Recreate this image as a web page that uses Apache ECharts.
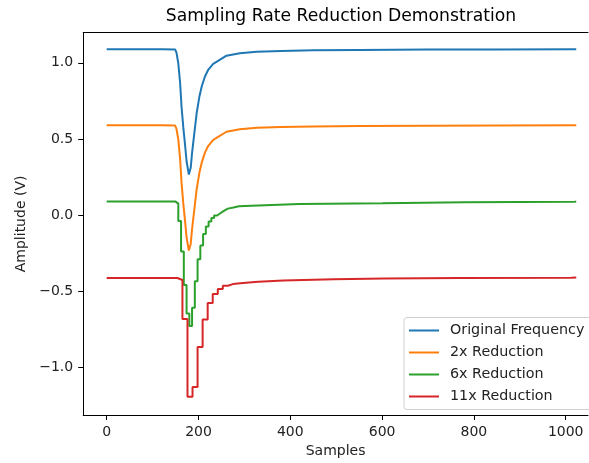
<!DOCTYPE html>
<html>
<head>
<meta charset="utf-8">
<script src="https://cdn.jsdelivr.net/npm/echarts@6/dist/echarts.min.js"></script>
<style>
  html, body { margin: 0; padding: 0; background: #fff; }
  #chart { width: 589px; height: 463px; }
</style>
</head>
<body>
<div id="chart"></div>
<script>
// original signal at key samples
let origX = [0, 60, 120, 149, 152, 156, 160, 163, 167, 171, 174, 179, 183, 186, 191, 196, 202, 207, 214, 221, 232, 240, 261, 290, 327, 380, 450, 550, 700, 850, 1023];
let origY = [1.090, 1.090, 1.089, 1.088, 1.067, 0.997, 0.866, 0.713, 0.572, 0.452, 0.353, 0.266, 0.310, 0.408, 0.539, 0.670, 0.779, 0.844, 0.910, 0.953, 0.993, 1.008, 1.047, 1.063, 1.073, 1.078, 1.082, 1.085, 1.087, 1.088, 1.089];

// 2x reduction (offset -0.5)
let halfX = [0, 60, 120, 149, 152, 156, 160, 163, 167, 171, 174, 179, 183, 186, 191, 196, 202, 207, 214, 221, 232, 240, 261, 290, 327, 380, 450, 550, 700, 850, 1023];
let halfY = [0.590, 0.590, 0.589, 0.588, 0.567, 0.497, 0.366, 0.213, 0.072, -0.048, -0.147, -0.234, -0.190, -0.092, 0.039, 0.170, 0.279, 0.344, 0.410, 0.453, 0.493, 0.508, 0.547, 0.563, 0.573, 0.578, 0.582, 0.585, 0.587, 0.588, 0.589];

// 6x reduction (offset -1.0), held values
let sixX = [0, 144, 150, 156, 162, 168, 174, 180, 186, 192, 198, 204, 210, 216, 222, 228, 234, 240, 246, 252, 258, 264, 276, 288, 330, 420, 600, 780, 1020, 1023];
let sixY = [0.089, 0.088, 0.075, -0.040, -0.240, -0.460, -0.647, -0.730, -0.610, -0.435, -0.290, -0.200, -0.125, -0.075, -0.043, -0.020, -0.004, 0.008, 0.020, 0.032, 0.042, 0.049, 0.058, 0.063, 0.073, 0.078, 0.084, 0.087, 0.088, 0.088];

// 11x reduction (offset -1.5), held values
let elevenX = [0, 143, 154, 165, 176, 187, 198, 209, 220, 231, 242, 253, 264, 275, 297, 330, 385, 495, 605, 770, 1012, 1023];
let elevenY = [-0.414, -0.414, -0.427, -0.683, -1.195, -1.130, -0.868, -0.687, -0.578, -0.519, -0.486, -0.465, -0.454, -0.447, -0.438, -0.430, -0.423, -0.418, -0.414, -0.413, -0.411, -0.411];

let seriesNames = ['Original Frequency', '2x Reduction', '6x Reduction', '11x Reduction'];
let colors = ['#1f77b4', '#ff7f0e', '#2ca02c', '#d62728'];
let xTicks = [0, 200, 400, 600, 800, 1000];
let yTicks = [-1.0, -0.5, 0.0, 0.5, 1.0];

let zip = (xs, ys) => xs.map((x, i) => [x, ys[i]]);
let minus = (s) => String(s).replace('-', '\u2212');
let font = 'DejaVu Sans';
let fs = 14;

let chart = echarts.init(document.getElementById('chart'), null, {renderer: 'canvas'});

let lineSeries = (name, data, color, step) => ({
    name: name,
    type: 'line',
    data: data,
    step: step,
    showSymbol: false,
    symbol: 'none',
    animation: false,
    lineStyle: {color: color, width: 2},
    itemStyle: {color: color}
});

// axes range: right spine of the original plot lies outside the picture
let xMin = -51.2, xMax = 1048.6;

let option = {
    backgroundColor: '#fff',
    textStyle: {fontFamily: font},
    title: {
        text: 'Sampling Rate Reduction Demonstration',
        left: 341,
        textAlign: 'center',
        top: 8,
        padding: 0,
        textStyle: {fontFamily: font, fontSize: 17.2, fontWeight: 'normal', color: '#000'}
    },
    grid: {left: 83.2, top: 32.7, right: 1, height: 384},
    legend: {
        orient: 'vertical',
        left: 404,
        top: 317.5,
        icon: 'rect',
        itemWidth: 30,
        itemHeight: 2,
        itemGap: 6,
        padding: [5, 14, 5, 5],
        backgroundColor: 'rgba(255,255,255,0.85)',
        borderColor: '#d0d0d0',
        borderWidth: 1,
        borderRadius: 3,
        data: seriesNames,
        textStyle: {fontFamily: font, fontSize: 14.3, color: '#222', padding: [0, 0, 0, 6], lineHeight: 16}
    },
    xAxis: [{
        type: 'value',
        min: xMin,
        max: xMax,
        name: 'Samples',
        nameLocation: 'middle',
        nameGap: 28,
        nameTextStyle: {fontFamily: font, fontSize: fs, color: '#222'},
        axisLine: {show: true, onZero: false, lineStyle: {color: '#000', width: 1}},
        axisTick: {show: true, length: 5, customValues: xTicks, lineStyle: {color: '#000'}},
        axisLabel: {customValues: xTicks, margin: 10, fontFamily: font, fontSize: fs, color: '#222',
            formatter: (v) => String(v)},
        splitLine: {show: false}
    }, {
        // top spine only
        type: 'value',
        position: 'top',
        min: xMin,
        max: xMax,
        axisLine: {show: true, onZero: false, lineStyle: {color: '#000', width: 1}},
        axisTick: {show: false},
        axisLabel: {show: false},
        splitLine: {show: false}
    }],
    yAxis: {
        type: 'value',
        min: -1.315,
        max: 1.198,
        name: 'Amplitude (V)',
        nameLocation: 'middle',
        nameRotate: 90,
        nameGap: 54,
        nameTextStyle: {fontFamily: font, fontSize: fs, color: '#222'},
        axisLine: {show: true, onZero: false, lineStyle: {color: '#000', width: 1}},
        axisTick: {show: true, length: 5, customValues: yTicks, lineStyle: {color: '#000'}},
        axisLabel: {
            customValues: yTicks, margin: 10, fontFamily: font, fontSize: fs, color: '#222',
            formatter: (v) => minus(Number(v).toFixed(1))
        },
        splitLine: {show: false}
    },
    series: [
        lineSeries(seriesNames[0], zip(origX, origY), colors[0], false),
        lineSeries(seriesNames[1], zip(halfX, halfY), colors[1], false),
        lineSeries(seriesNames[2], zip(sixX, sixY), colors[2], 'end'),
        lineSeries(seriesNames[3], zip(elevenX, elevenY), colors[3], 'end')
    ]
};

chart.setOption(option);
</script>
</body>
</html>
